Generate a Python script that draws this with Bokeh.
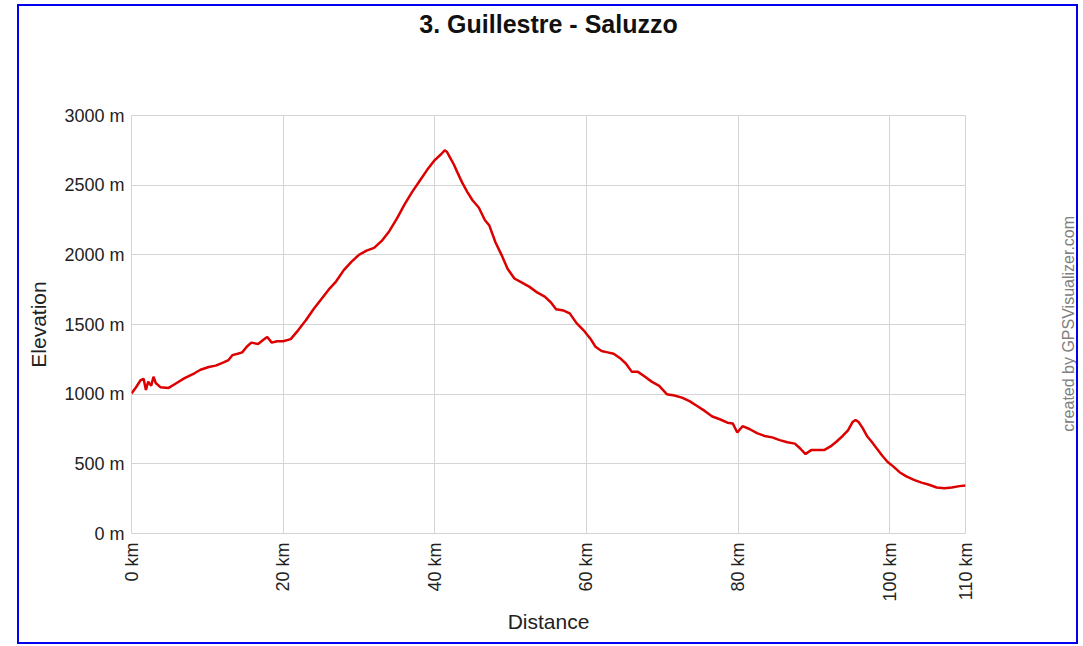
import math
from bokeh.plotting import figure
from bokeh.layouts import row, column
from bokeh.models import Range1d, FixedTicker, PrintfTickFormatter, LinearAxis, Label, Div
from bokeh.embed import file_html
from bokeh.resources import INLINE

# ---- data ----
distance_km = [0, 0.6, 1.2, 1.6, 1.9, 2.2, 2.6, 2.9, 3.2, 3.8, 4.9, 5.8, 7.0, 8.3, 9.1, 10.2, 11.1,
               12.0, 12.8, 13.3, 14.0, 14.6, 15.2, 15.8, 16.7, 17.4, 17.9, 18.5, 19.2, 20.0, 21.0,
               22.0, 23.0, 24.0, 25.0, 26.0, 27.0, 28.0, 29.0, 30.0, 31.0, 32.0, 33.0, 34.0, 35.0,
               36.0, 37.0, 38.0, 39.0, 40.0, 40.8, 41.3, 41.6, 42.0, 42.5, 43.0, 43.6, 44.3, 45.0,
               45.8, 46.6, 47.2, 48.0, 48.8, 49.6, 50.5, 51.5, 52.5, 53.5, 54.5, 55.3, 56.0, 57.0,
               57.8, 58.7, 59.6, 60.5, 61.2, 62.0, 62.8, 63.6, 64.4, 65.2, 66.0, 66.8, 67.6, 68.6,
               69.6, 70.6, 71.6, 72.6, 73.6, 74.6, 75.6, 76.6, 77.6, 78.6, 79.3, 79.9, 80.6, 81.5,
               82.5, 83.5, 84.5, 85.5, 86.5, 87.5, 88.2, 88.9, 89.7, 90.5, 91.4, 92.2, 93.0, 93.8,
               94.5, 95.1, 95.5, 95.9, 96.4, 97.0, 97.6, 98.3, 99.0, 99.7, 100.5, 101.3, 102.2,
               103.2, 104.2, 105.2, 106.2, 107.2, 108.2, 109.2, 110.0]
elevation_m = [1005, 1050, 1100, 1110, 1030, 1090, 1060, 1125, 1080, 1050, 1045, 1075, 1115, 1150,
               1175, 1195, 1205, 1225, 1245, 1280, 1290, 1300, 1340, 1370, 1360, 1390, 1410, 1370,
               1380, 1380, 1395, 1460, 1530, 1610, 1680, 1750, 1810, 1890, 1950, 2000, 2030, 2050,
               2100, 2170, 2260, 2360, 2450, 2530, 2610, 2680, 2720, 2750, 2740, 2700, 2650, 2590,
               2520, 2450, 2390, 2340, 2250, 2210, 2090, 2000, 1900, 1830, 1800, 1770, 1730, 1700,
               1660, 1610, 1600, 1580, 1510, 1460, 1400, 1340, 1310, 1300, 1290, 1260, 1220, 1160,
               1160, 1130, 1090, 1060, 1000, 990, 975, 950, 915, 880, 840, 820, 795, 790, 725, 770,
               750, 720, 700, 690, 670, 655, 645, 610, 570, 600, 600, 600, 625, 660, 700, 740, 800,
               815, 800, 760, 700, 660, 610, 560, 515, 480, 440, 410, 385, 365, 350, 330, 325, 330,
               340, 345]
x_ticks = [0, 20, 40, 60, 80, 100, 110]
y_ticks = [0, 500, 1000, 1500, 2000, 2500, 3000]
title_text = "3. Guillestre - Saluzzo"
credit_text = "created by GPSVisualizer.com"

FONT = "Liberation Sans"
GRID = "#d4d4d4"
BLUE = "#0000ee"

p = figure(width=1036, height=636, output_backend="svg", toolbar_location=None,
           x_range=Range1d(0, 110), y_range=Range1d(0, 3000),
           min_border_left=112, min_border_right=90, min_border_top=109, min_border_bottom=109)
p.background_fill_color = "white"
p.border_fill_color = "white"
p.outline_line_color = GRID
p.outline_line_width = 1

p.line(distance_km, elevation_m, line_color="#dd0000", line_width=2.5)

p.xaxis.ticker = FixedTicker(ticks=x_ticks)
p.yaxis.ticker = FixedTicker(ticks=y_ticks)
p.xaxis.formatter = PrintfTickFormatter(format="%d km")
p.yaxis.formatter = PrintfTickFormatter(format="%d m")
p.xaxis.major_label_orientation = math.pi / 2
for ax in (p.xaxis, p.yaxis):
    ax.axis_line_color = None
    ax.major_tick_line_color = None
    ax.minor_tick_line_color = None
    ax.major_tick_out = 0
    ax.major_tick_in = 0
    ax.major_label_text_font = FONT
    ax.major_label_text_font_size = "18px"
    ax.major_label_text_color = "#222222"
    ax.major_label_standoff = 7
    ax.axis_label_text_font = FONT
    ax.axis_label_text_font_size = "21px"
    ax.axis_label_text_font_style = "normal"
    ax.axis_label_text_color = "#222222"
p.xaxis.major_label_standoff = 9
p.xaxis.axis_label = "Distance"
p.yaxis.axis_label = "Elevation"
p.xaxis.axis_label_standoff = 5
p.yaxis.axis_label_standoff = 11

p.xgrid.ticker = FixedTicker(ticks=x_ticks)
p.ygrid.ticker = FixedTicker(ticks=y_ticks)
p.grid.grid_line_color = GRID
p.grid.grid_line_width = 1

# title as the label of an empty axis above the frame (centred on the frame)
title_axis = LinearAxis(ticker=FixedTicker(ticks=[]), axis_label=title_text)
title_axis.axis_line_color = None
title_axis.major_tick_line_color = None
title_axis.minor_tick_line_color = None
title_axis.major_tick_out = 0
title_axis.major_label_standoff = 0
title_axis.axis_label_standoff = 78
title_axis.axis_label_text_font = FONT
title_axis.axis_label_text_font_size = "25px"
title_axis.axis_label_text_font_style = "bold"
title_axis.axis_label_text_color = "#111111"
p.add_layout(title_axis, "above")

# narrow side panel carrying the credit text
side = figure(width=21, height=636, output_backend="svg", toolbar_location=None,
              x_range=Range1d(0, 21), y_range=Range1d(0, 636),
              x_axis_type=None, y_axis_type=None,
              min_border=0, min_border_left=0, min_border_right=0,
              min_border_top=0, min_border_bottom=0)
side.grid.visible = False
side.outline_line_color = None
side.background_fill_color = "white"
side.border_fill_color = "white"
side.add_layout(Label(x=13, y=319, text=credit_text, angle=math.pi / 2, text_align="center",
                      text_baseline="middle", text_font=FONT, text_font_size="16px",
                      text_color="#808080"))


def bar(w, h):
    return Div(text="", width=w, height=h, margin=0,
               styles={"background-color": BLUE, "padding": "0", "overflow": "hidden"})


# blue frame around the whole chart
layout = column(bar(1061, 2),
                row(bar(2, 636), p, side, bar(2, 636), spacing=0),
                bar(1061, 2), spacing=0,
                styles={"position": "absolute", "left": "17px", "top": "4px"})

open("out.html", "w").write(file_html(layout, INLINE))
